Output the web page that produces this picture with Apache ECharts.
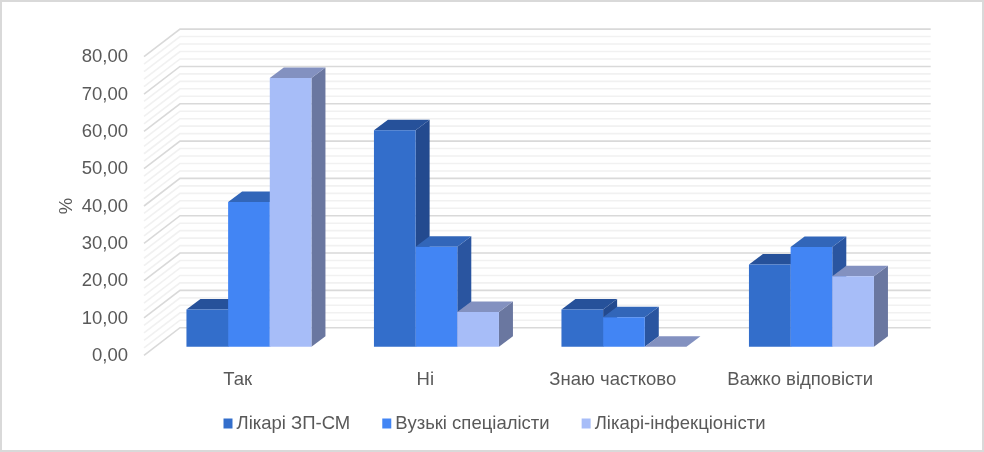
<!DOCTYPE html>
<html><head><meta charset="utf-8">
<style>html,body{margin:0;padding:0;background:#fff}#c{width:984px;height:452px}</style>
<script src="https://cdn.jsdelivr.net/npm/echarts@6/dist/echarts.min.js"></script>
</head><body><div id="c"></div>
<script>
const categories = ['Так', 'Ні', 'Знаю частково', 'Важко відповісти'];
const seriesNames = ['Лікарі ЗП-СМ', 'Вузькі спеціалісти', 'Лікарі-інфекціоністи'];
const doctorsGP = [10, 58, 10, 22];
const specialists = [38.8, 26.8, 7.9, 26.7];
const infectious = [72, 9.3, 0, 18.9];
const majorTicks = [0, 10, 20, 30, 40, 50, 60, 70, 80];
const minorTicks = [2, 4, 6, 8, 12, 14, 16, 18, 22, 24, 26, 28, 32, 34, 36, 38, 42, 44, 46, 48, 52, 54, 56, 58, 62, 64, 66, 68, 72, 74, 76, 78];

const font = '"Liberation Sans", Arial, sans-serif';
const textColor = '#595959';
const wallDx = 36, wallDy = 27.6;
const barOffX = 11.2, barOffY = 8.6, barDx = 14, barDy = 10.5;
const palette = [
  {front: '#336ecb', top: '#26519a', side: '#234a8f'},
  {front: '#4285f4', top: '#3266b9', side: '#2a55a0'},
  {front: '#a7bdf8', top: '#8391c0', side: '#6a77a0'}
];

function wallItem(color) {
  return function (params, api) {
    const cs = params.coordSys;
    const y = api.coord([0, api.value(1)])[1];
    return {type: 'polyline', silent: true,
      shape: {points: [[cs.x, y], [cs.x + wallDx, y - wallDy], [cs.x + cs.width + wallDx + 0.7, y - wallDy]]},
      style: {fill: null, stroke: color, lineWidth: 1.6}};
  };
}
function barItem(i) {
  const c = palette[i];
  return function (params, api) {
    const band = api.size([1, 0])[0];
    const w = band / 3 / 1.5;
    const base = api.coord([api.value(0), 0]);
    const top = api.coord([api.value(0), api.value(1)]);
    const x0 = base[0] - 1.5 * w + i * w + barOffX;
    const x1 = x0 + w;
    const yb = base[1] - barOffY;
    const yt = top[1] - barOffY;
    return {type: 'group', silent: true, children: [
      {type: 'polygon', shape: {points: [[x1, yb], [x1 + barDx, yb - barDy], [x1 + barDx, yt - barDy], [x1, yt]]}, style: {fill: c.side}},
      {type: 'polygon', shape: {points: [[x0, yt], [x0 + barDx, yt - barDy], [x1 + barDx, yt - barDy], [x1, yt]]}, style: {fill: c.top}},
      {type: 'rect', shape: {x: x0, y: yt, width: w, height: yb - yt}, style: {fill: c.front}}
    ]};
  };
}

const chart = echarts.init(document.getElementById('c'), null, {renderer: 'canvas'});
const valueSets = [doctorsGP, specialists, infectious];
chart.setOption({
  animation: false,
  backgroundColor: '#fff',
  textStyle: {fontFamily: font},
  grid: {left: 144, top: 56.7, width: 750, height: 298.6, containLabel: false},
  legend: {
    data: seriesNames.map((n, i) => ({name: n, itemStyle: {color: palette[i].front}})),
    left: 218.5, top: 409, icon: 'rect', itemWidth: 9, itemHeight: 10, itemGap: 32,
    textStyle: {fontFamily: font, fontSize: 18.5, color: textColor, padding: [0, 0, 0, -1]}
  },
  xAxis: {
    type: 'category', data: categories,
    axisLine: {show: false}, axisTick: {show: false}, splitLine: {show: false},
    axisLabel: {fontFamily: font, fontSize: 18.5, color: textColor, margin: 15, interval: 0}
  },
  yAxis: {
    type: 'value', min: 0, max: 80, interval: 10,
    name: '%', nameLocation: 'middle', nameRotate: 90, nameGap: 68, nameMoveOverlap: false,
    nameTextStyle: {fontFamily: font, fontSize: 18.5, color: textColor},
    axisLine: {show: false}, axisTick: {show: false}, splitLine: {show: false},
    axisLabel: {fontFamily: font, fontSize: 18.5, color: textColor, margin: 16,
      rich: {t: {fontFamily: font, fontSize: 18.5, color: textColor, padding: [1, 0, 0, 0]}},
      formatter: v => '{t|' + v.toFixed(2).replace('.', ',') + '}'}
  },
  series: [
    {type: 'custom', name: 'minor', silent: true, z: 1, renderItem: wallItem('#f1f1f1'),
      encode: {x: 0, y: 1}, data: minorTicks.map(v => [0, v])},
    {type: 'custom', name: 'major', silent: true, z: 2, renderItem: wallItem('#d9d9d9'),
      encode: {x: 0, y: 1}, data: majorTicks.map(v => [0, v])}
  ].concat(seriesNames.map((n, i) => ({
    type: 'custom', name: n, z: 3 + i, renderItem: barItem(i),
    itemStyle: {color: palette[i].front},
    encode: {x: 0, y: 1},
    data: valueSets[i].map((v, k) => [k, v])
  }))),
  graphic: [{type: 'rect', z: 100, silent: true, shape: {x: 1, y: 1, width: 982, height: 450},
    style: {fill: null, stroke: '#d9d9d9', lineWidth: 2}}]
});
</script></body></html>
